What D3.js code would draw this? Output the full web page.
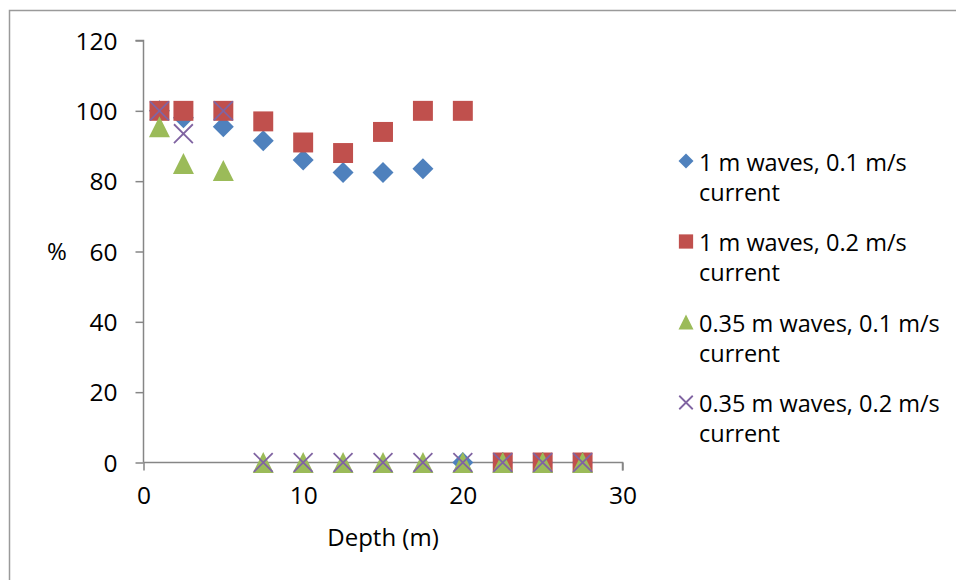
<!DOCTYPE html>
<html>
<head>
<meta charset="utf-8">
<script src="https://cdn.jsdelivr.net/npm/d3@7"></script>
<style>
  html, body { margin: 0; padding: 0; background: #fff; }
  svg { display: block; }
  text { font-family: "Open Sans", Lato, sans-serif; fill: #000; }
</style>
</head>
<body>
<svg id="chart" width="956" height="580"></svg>
<script>
// Depth positions sampled (m)
const depths = [1, 2.5, 5, 7.5, 10, 12.5, 15, 17.5, 20, 22.5, 25, 27.5];

// Percentage values for each scenario
const wave1Cur01 = [100, 98, 95.5, 91.5, 86, 82.5, 82.5, 83.5, 0, 0, 0, 0];
const wave1Cur02 = [100, 100, 100, 97, 91, 88, 94, 100, 100, 0, 0, 0];
const wave035Cur01 = [95.5, 85, 83, 0, 0, 0, 0, 0, 0, 0, 0, 0];
const wave035Cur02 = [100, 93.5, 100, 0, 0, 0, 0, 0, 0, 0, 0, 0];

const seriesNames = [
  "1 m waves, 0.1 m/s current",
  "1 m waves, 0.2 m/s current",
  "0.35 m waves, 0.1 m/s current",
  "0.35 m waves, 0.2 m/s current"
];
const seriesColors = ["#4F81BD", "#C0504D", "#9BBB59", "#8064A2"];
const seriesShapes = ["diamond", "square", "triangle", "cross"];
const seriesValues = [wave1Cur01, wave1Cur02, wave035Cur01, wave035Cur02];

const xTicks = [0, 10, 20, 30];
const yTicks = [0, 20, 40, 60, 80, 100, 120];

const FONT = "'Open Sans', Lato, sans-serif";
const TICK_FS = "24.5px";
const TITLE_FS = "24px";
const LEGEND_FS = "23.5px";

const svg = d3.select("#chart");

// Outer chart frame (runs off the right and bottom edges)
svg.append("rect")
  .attr("x", 9.5).attr("y", 10.5)
  .attr("width", 1000).attr("height", 1000)
  .attr("fill", "none")
  .attr("stroke", "#9a9a9a")
  .attr("stroke-width", 1.5);

const x = d3.scaleLinear().domain([0, 30]).range([143.5, 622.5]);
const y = d3.scaleLinear().domain([0, 120]).range([462.5, 40.5]);

const axisColor = "#868686";

// Y axis
const yAxis = svg.append("g")
  .attr("transform", `translate(${x(0)},0)`)
  .call(d3.axisLeft(y).tickValues(yTicks).tickSize(8).tickPadding(18));
yAxis.select(".domain").attr("stroke", axisColor).attr("stroke-width", 1.5)
  .attr("d", `M-8,${y(120)}H0V${y(0)}`);
yAxis.selectAll(".tick line").attr("stroke", axisColor).attr("stroke-width", 1.5);
yAxis.selectAll(".tick text")
  .style("font-family", FONT)
  .style("font-size", TICK_FS).attr("fill", "#000").attr("dy", "0.35em");

// X axis
const xAxis = svg.append("g")
  .attr("transform", `translate(0,${y(0)})`)
  .call(d3.axisBottom(x).tickValues(xTicks).tickSize(8).tickPadding(16));
xAxis.select(".domain").attr("stroke", axisColor).attr("stroke-width", 1.5)
  .attr("d", `M${x(0)},0H${x(30)}V8`);
xAxis.selectAll(".tick line").attr("stroke", axisColor).attr("stroke-width", 1.5);
xAxis.selectAll(".tick text")
  .style("font-family", FONT)
  .style("font-size", TICK_FS).attr("fill", "#000");

// Axis titles
svg.append("text")
  .attr("x", 383).attr("y", 546)
  .attr("text-anchor", "middle")
  .style("font-size", TITLE_FS)
  .text("Depth (m)");
svg.append("text")
  .attr("x", 57).attr("y", y(60))
  .attr("dy", "0.35em")
  .attr("text-anchor", "middle")
  .style("font-size", TITLE_FS)
  .text("%");

// Marker drawing helper
function drawMarker(g, shape, color, size) {
  const h = size / 2;
  if (shape === "diamond") {
    g.append("path")
      .attr("d", `M0,${-h}L${h},0L0,${h}L${-h},0Z`)
      .attr("fill", color);
  } else if (shape === "square") {
    g.append("rect")
      .attr("x", -h * 0.95).attr("y", -h * 0.95)
      .attr("width", size * 0.95).attr("height", size * 0.95)
      .attr("fill", color);
  } else if (shape === "triangle") {
    g.append("path")
      .attr("d", `M0,${-h}L${h},${h}L${-h},${h}Z`)
      .attr("fill", color);
  } else {
    const c = h * 0.9;
    g.append("path")
      .attr("d", `M${-c},${-c}L${c},${c}M${-c},${c}L${c},${-c}`)
      .attr("stroke", color)
      .attr("stroke-width", 1.8)
      .attr("fill", "none");
  }
}

// Scatter points
seriesValues.forEach((vals, si) => {
  const g = svg.append("g").attr("class", "series-" + si);
  depths.forEach((d, i) => {
    const v = vals[i];
    if (v === null || v === undefined) return;
    const m = g.append("g").attr("transform", `translate(${x(d)},${y(v)})`);
    drawMarker(m, seriesShapes[si], seriesColors[si], 21);
  });
});

// Legend
const legend = svg.append("g");
const legendTop = 161;
const legendStep = 80.5;
seriesNames.forEach((name, i) => {
  const cy = legendTop + i * legendStep;
  const m = legend.append("g").attr("transform", `translate(686,${cy})`);
  drawMarker(m, seriesShapes[i], seriesColors[i], 15);
  const words = name.split(" ");
  const line1 = words.slice(0, -1).join(" ");
  const line2 = words[words.length - 1];
  const t = legend.append("text")
    .attr("x", 699).attr("y", cy + 9.5)
    .style("font-size", LEGEND_FS);
  t.append("tspan").attr("x", 699).text(line1);
  t.append("tspan").attr("x", 699).attr("dy", "30").text(line2);
});
</script>
</body>
</html>
